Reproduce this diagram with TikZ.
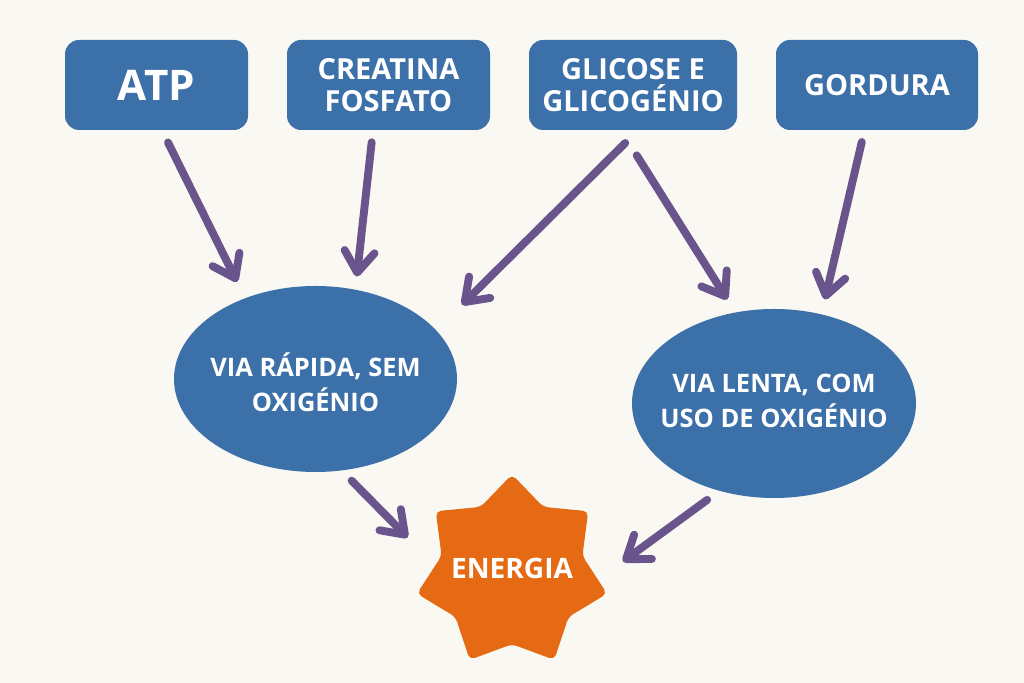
\documentclass[tikz,border=0pt]{standalone}
\usepackage{fontspec}
\setmainfont{Open Sans}
\usepackage{tikz}
\usetikzlibrary{shapes.geometric, arrows.meta, positioning, calc}

\definecolor{fundo}{HTML}{FAF8F3}
\definecolor{azul}{HTML}{3C70A8}
\definecolor{roxo}{HTML}{6A548C}
\definecolor{laranja}{HTML}{E66A14}

\tikzset{
    caixa/.style={rectangle, fill=azul, text=white, rounded corners=8pt, minimum height=1.8cm,
        inner sep=0pt, align=center, font=\bfseries\fontsize{16.5}{18.5}\selectfont},
    via/.style={ellipse, fill=azul, minimum width=5.66cm, minimum height=3.72cm, inner sep=0pt},
    rotulo/.style={text=white, align=center, font=\bfseries\fontsize{14.5}{20}\selectfont},
    estrela/.style={star, star points=7, star point ratio=1.35, fill=laranja, minimum size=3.9cm,
        inner sep=0pt, rounded corners=3pt},
    seta/.style={draw=roxo, line width=4.5pt, line cap=round, line join=round,
        -{Straight Barb[length=0.42cm, width=0.6cm, round]}},
}

\begin{document}
\begin{tikzpicture}
    \fill [fundo] (0,0) rectangle (20.48,13.66);
    \useasboundingbox (0,0) rectangle (20.48,13.66);

    % fontes
    \node [caixa, minimum width=3.66cm, font=\bfseries\fontsize{24}{28}\selectfont] (atp) at (3.13,11.96) {ATP};
    \node [caixa, minimum width=4.06cm] (creat) at (7.77,11.96) {CREATINA\\FOSFATO};
    \node [caixa, minimum width=4.16cm] (glic) at (12.66,11.96) {GLICOSE E\\GLICOGÉNIO};
    \node [caixa, minimum width=4.04cm] (gord) at (17.54,11.96) {GORDURA};

    % vias
    \node [via] (rapida) at (6.31,6.08) {};
    \node [rotulo] (rapida-txt) at ([yshift=-0.06cm]rapida) {VIA RÁPIDA, SEM\\OXIGÉNIO};
    \node [via, minimum width=5.68cm, minimum height=3.78cm] (lenta) at (15.48,5.59) {};
    \node [rotulo] (lenta-txt) at ([yshift=0.06cm]lenta) {VIA LENTA, COM\\USO DE OXIGÉNIO};

    % energia
    \node [estrela] (energia) at (10.24,2.22) {};
    \node [rotulo, font=\bfseries\fontsize{16}{19}\selectfont] (energia-txt) at ([yshift=0.08cm]energia) {ENERGIA};

    % setas
    \draw [seta, shorten <=0.27cm, shorten >=0.36cm] ([xshift=0.11cm]atp.south) -- (rapida.131);
    \draw [seta, shorten <=0.24cm, shorten >=0.26cm] ([xshift=-0.31cm]creat.south) -- (rapida.66);
    \draw [seta, shorten <=0.36cm, shorten >=0.72cm] ([xshift=0.1cm]glic.south) -- (rapida.22);
    \draw [seta, shorten <=0.59cm, shorten >=0.3cm] ([xshift=-0.24cm]glic.south) -- (lenta.113);
    \draw [seta, shorten <=0.24cm, shorten >=0.3cm] ([xshift=-0.25cm]gord.south) -- (lenta.62);
    \draw [seta, shorten <=0.28cm, shorten >=0.78cm] (rapida.286) -- (energia.175);
    \draw [seta, shorten <=0.3cm, shorten >=0.61cm] (lenta.238) -- (energia.355);
\end{tikzpicture}
\end{document}
